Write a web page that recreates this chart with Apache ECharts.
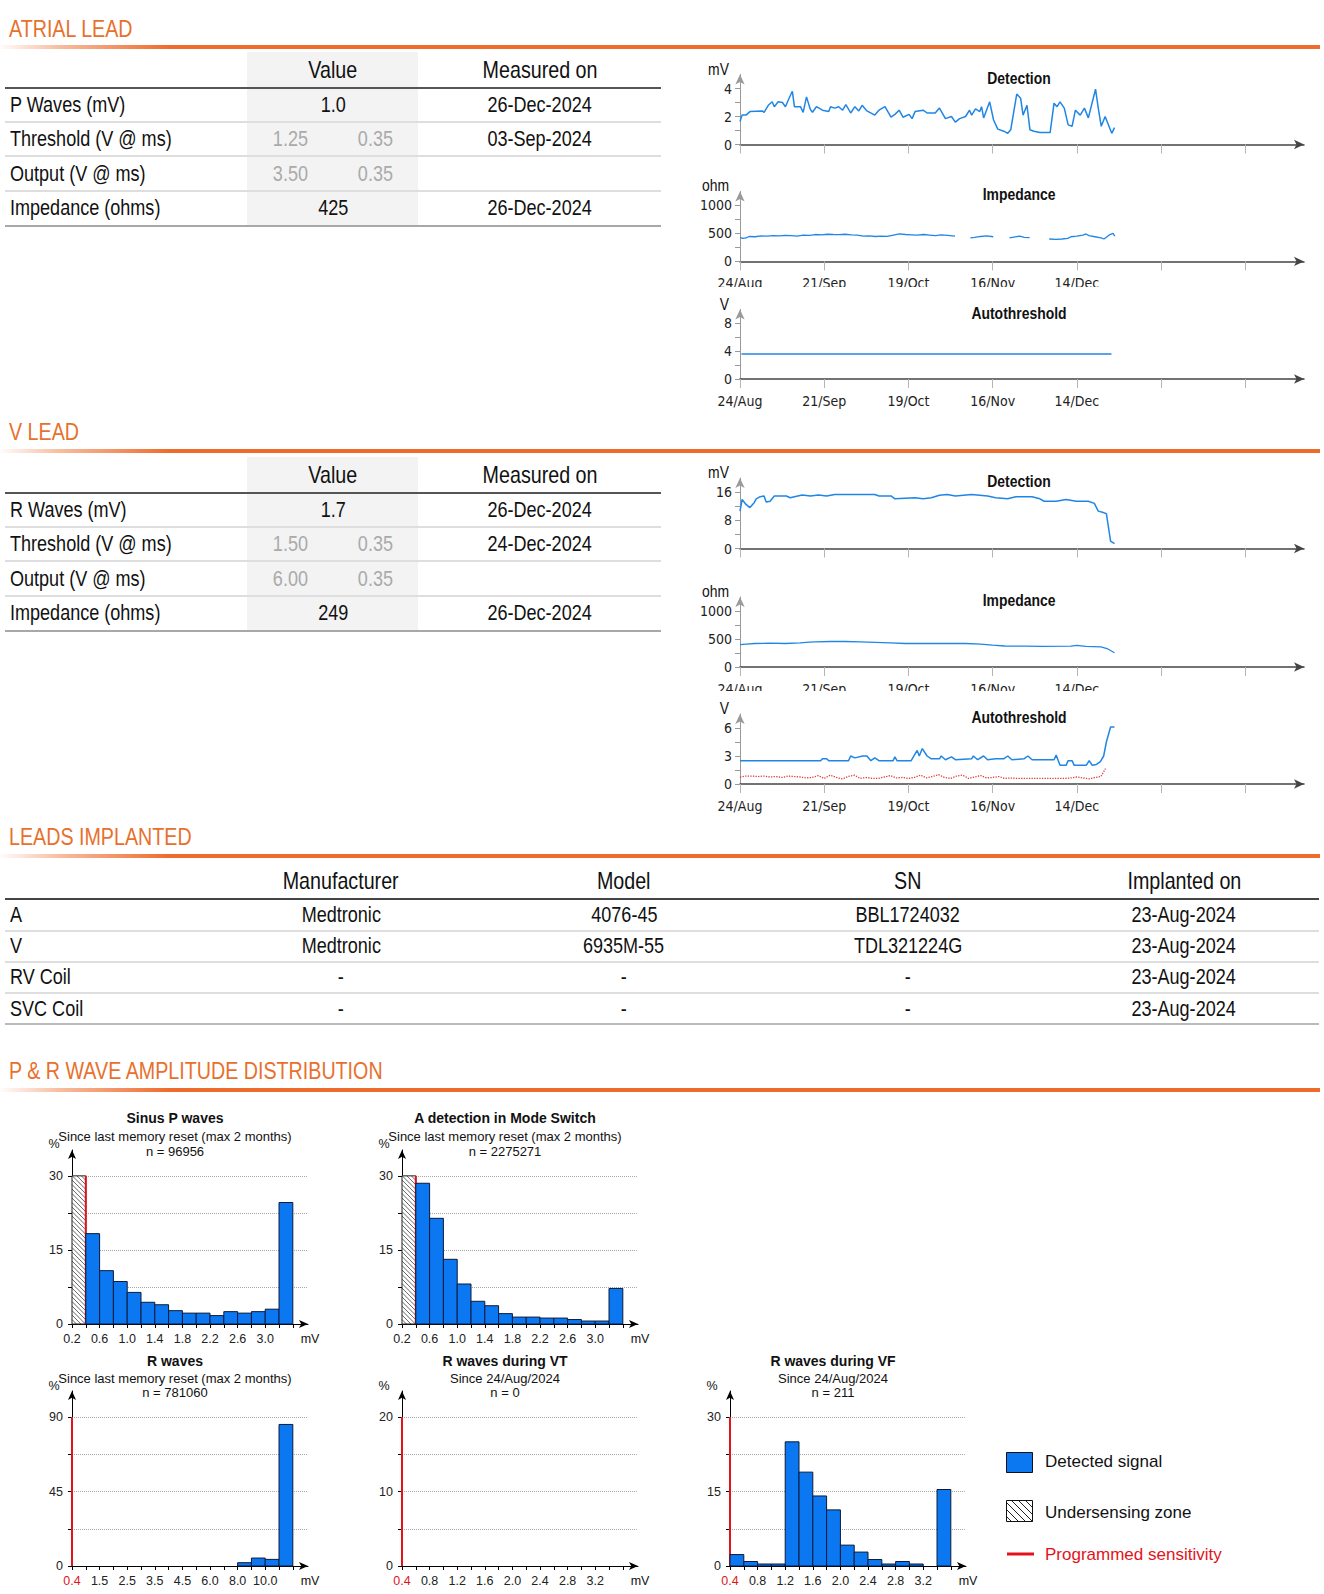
<!DOCTYPE html>
<html><head><meta charset="utf-8">
<script src="https://cdn.jsdelivr.net/npm/echarts@6/dist/echarts.min.js"></script>
<style>
html,body{margin:0;padding:0;background:#fff}
body{width:1324px;height:1594px;position:relative;overflow:hidden;font-family:"Liberation Sans",Arial,sans-serif;color:#111}
.sec{position:absolute;left:9px;font-size:24px;color:#e8702c;line-height:28px;height:28px;white-space:nowrap}
.obar{position:absolute;left:0;width:1320px;height:4px;background:linear-gradient(to right,rgba(238,107,43,0.02) 0,rgba(238,107,43,0.45) 60px,#ee6b2b 170px,#ee6b2b 100%)}
.cell{position:absolute;font-size:22px;line-height:28px;height:28px;white-space:nowrap}
.n{display:inline-block;transform:scaleX(0.82)}
.cell.l .n,.sec .n{transform-origin:0 50%}
.cell.c .n{transform-origin:50% 50%}
.rule{position:absolute}
.chart{position:absolute}
</style></head><body>
<div id="root"></div>
<script>
// ---------------- DATA ----------------
const atrialRowLabels = ['P Waves (mV)','Threshold (V @ ms)','Output (V @ ms)','Impedance (ohms)'];
const atrialRowValues = [['1.0'],['1.25','0.35'],['3.50','0.35'],['425']];
const atrialMeasuredOn = ['26-Dec-2024','03-Sep-2024','','26-Dec-2024'];
const vRowLabels = ['R Waves (mV)','Threshold (V @ ms)','Output (V @ ms)','Impedance (ohms)'];
const vRowValues = [['1.7'],['1.50','0.35'],['6.00','0.35'],['249']];
const vMeasuredOn = ['26-Dec-2024','24-Dec-2024','','26-Dec-2024'];

const leadHeaders = ['Manufacturer','Model','SN','Implanted on'];
const leadNames = ['A','V','RV Coil','SVC Coil'];
const leadManufacturer = ['Medtronic','Medtronic','-','-'];
const leadModel = ['4076-45','6935M-55','-','-'];
const leadSN = ['BBL1724032','TDL321224G','-','-'];
const leadImplanted = ['23-Aug-2024','23-Aug-2024','23-Aug-2024','23-Aug-2024'];

// trend x axis: days since 24/Aug/2024
const trendTickDays = [0,28,56,84,112,140,168];
const trendLabelDays = [0,28,56,84,112];
const trendTickLabels = ['24/Aug','21/Sep','19/Oct','16/Nov','14/Dec'];

const atrialDetDays = [0,0.7,2,3.3,7.4,8,9.4,10.7,11.4,12.7,14.1,15.1,16.1,17.4,18.1,20.1,21,22.1,23.4,24.1,25.4,27.4,29.5,30.1,31.5,32.8,34.1,35.2,36.8,38.2,39.5,40.6,42.2,44.8,46.2,48.2,50.2,51.5,52.9,54.2,56.2,57.2,58.2,60.9,62.2,64.9,66.3,68.3,70.3,71.6,73,75,76.3,77,78.3,79.7,80.3,81,83,84.3,85.7,87.7,89,90,92,93.3,94.1,95.4,96.4,97.7,99.7,103.1,104.4,105.4,106.4,107.8,109.1,110.4,111.5,113.1,114.5,115.8,118.2,119.1,120.1,121.4,122.5,123.6,124.5];
const atrialDetValues = [1.65,2.1,2.1,2.35,2.4,2.3,2.8,3.05,2.7,3.05,3.0,2.7,3.2,3.8,2.7,2.7,2.3,3.4,2.5,2.3,2.7,2.45,2.35,2.7,2.6,2.7,2.45,2.85,2.25,2.7,2.4,2.8,2.4,2.1,2.45,2.7,1.95,2.15,2.45,1.95,2.15,1.85,2.35,2.45,2.25,2.25,2.6,1.85,2.0,1.6,1.85,2.0,2.45,2.1,2.55,2.35,2.7,1.9,3.05,1.75,1.1,0.95,0.8,1.05,3.6,3.3,2.1,2.8,1.05,0.95,0.85,0.85,2.95,2.7,3.05,2.6,1.4,1.3,2.45,2.1,2.6,1.9,3.95,2.6,1.3,2.0,1.4,0.8,1.2];

const atrialImpDays = [0,1,2,3,5,7,9,11,13,15,17,19,21,23,25,27,29,31,33,35,37,39,41,43,45,47,49,51,53,55,57,59,61,63,65,67,69,71.5,74,76.6,78,80,82,84.2,87,89.6,91,93,94.5,96.3,100,102.8,105,107,109,110,112,114,115,116,118,120,121,122,123,124,124.6];
const atrialImpValues = [425,410,420,445,440,455,450,460,455,465,460,450,470,465,480,475,485,480,478,485,475,470,450,455,445,450,448,470,490,480,475,470,480,470,460,475,465,450,null,420,430,445,455,440,null,420,435,450,430,425,null,400,395,400,410,440,450,470,490,460,440,420,400,440,480,500,450];

const atrialAutoDays = [0.5,123.5];
const atrialAutoValues = [3.6,3.6];

const vDetDays = [0,0.7,2,3.3,4.7,5.4,6.7,8,8.7,10,11.4,15.4,16.7,18.1,20.7,23.4,26.1,28.8,31.5,44.8,46.2,50.2,51.5,58.2,60.9,63.6,66.3,68.9,71.6,77,82.3,85,89,91.7,97.1,99.7,101.1,105.1,108.4,111.8,115.8,117.8,119.1,120.5,121.8,123.2,124.5];
const vDetValues = [10.6,13.9,12.5,11.6,13.0,14.1,14.7,14.9,13.2,13.4,14.9,14.9,14.4,14.7,15.2,14.9,15.2,14.9,15.3,15.3,14.9,14.9,14.1,14.4,14.1,14.4,15.1,15.3,14.9,15.3,14.9,14.4,14.1,14.7,14.7,14.1,13.4,13.4,13.9,13.4,13.4,12.8,10.6,10.3,9.9,2.1,1.4];

const vImpDays = [0,2,5,10,15,20,23,25,30,35,40,45,50,55,60,65,70,75,80,84,88,95,100,110,112,115,120,122,124.5];
const vImpValues = [400,410,420,425,420,430,445,450,455,455,450,440,430,420,420,420,420,420,410,390,375,372,370,372,385,370,360,330,255];

const vAutoDays = [0,26.8,27.4,28.8,29.5,36.1,36.8,38.2,40.8,42.2,43.5,44.8,46.2,50.9,51.5,52.2,56.9,58.9,59.6,60.6,62.2,63.6,66.3,66.9,68.3,70.3,71.6,77,77.6,79,81,82.3,85,87.7,89,90.4,94.4,95.7,97.1,104.4,105.1,106.4,108.4,109.1,110.4,111.1,115.1,116.1,117.1,118.5,119.8,120.9,121.8,123.2,124.5];
const vAutoValues = [2.5,2.5,2.7,2.7,2.5,2.5,3.0,2.8,3.0,3.0,2.5,2.8,2.5,2.5,2.9,2.5,2.5,3.6,3.0,3.8,3.0,2.7,2.7,3.0,2.6,2.9,2.6,2.7,3.0,2.6,3.0,2.6,2.7,2.7,3.0,2.6,2.7,3.0,2.6,2.6,3.1,2.0,2.0,2.5,2.5,2.0,2.0,2.5,2.0,2.1,2.4,3.0,4.5,6.1,6.1];

const vCaptureDays = [0,2,4,6,8,10,12,14,16,18,20,22,24,26,28,30,32,34,36,38,40,42,44,46,48,50,52,54,56,58,60,62,64,66,68,70,72,74,76,78,80,82,84,86,88,90,92,94,96,98,100,102,104,106,108,110,112,114,116,118,120,121.5];
const vCaptureValues = [0.75,0.85,0.85,0.8,0.85,0.75,0.8,0.7,0.85,0.8,0.75,0.65,0.7,0.9,0.6,0.95,0.7,0.55,0.8,0.95,0.6,0.7,0.6,0.6,0.75,0.9,0.65,0.7,0.6,0.7,0.95,0.65,0.8,1.0,0.7,0.6,0.85,0.95,0.6,0.75,0.9,0.65,0.7,0.8,0.6,0.65,0.6,0.6,0.6,0.6,0.6,0.6,0.6,0.6,0.6,0.65,0.75,0.65,0.55,0.7,0.8,1.65];

// histograms (bins of equal width, bin index units)
const histTickIdx = [0,1,2,3,4,5,6,7,8,9,10,11,12,13,14,15,16];
const histLabelIdx = [0,2,4,6,8,10,12,14];
const pLabels = ['0.2','0.6','1.0','1.4','1.8','2.2','2.6','3.0'];
const rLabels = ['0.4','1.5','2.5','3.5','4.5','6.0','8.0','10.0'];
const tachyLabels = ['0.4','0.8','1.2','1.6','2.0','2.4','2.8','3.2'];

const sinusPValues = [0,18.3,10.8,8.6,6.4,4.4,3.9,2.7,2.2,2.2,1.7,2.5,2.2,2.5,3.0,24.6];
const modeSwitchValues = [0,28.5,21.4,13.1,8.1,4.6,3.7,2.1,1.4,1.4,1.2,1.2,0.9,0.6,0.6,7.2];
const rWaveValues = [0,0,0,0,0,0,0,0,0,0,0,0,2.0,4.8,4.0,85.5];
const vtValues = [0,0,0,0,0,0,0,0,0,0,0,0,0,0,0,0];
const vfValues = [2.3,0.9,0.4,0.4,25.0,18.9,14.1,11.3,4.2,2.8,1.3,0.4,0.9,0.4,0,15.4];
const atrialUnderZone = [0,1];   // 0.2 - 0.4 mV
const atrialSensitivity = 1;     // 0.4 mV
const ventSensitivity = 0;       // 0.4 mV

// ---------------- HELPERS ----------------
const NARROW = '"DejaVu Sans Condensed","Liberation Sans Narrow","Arial Narrow",sans-serif';
const ARIAL = '"Liberation Sans",Arial,Helvetica,sans-serif';
const BLUE_LINE = '#1f86e6';
const RED = '#e3131b';
const root = document.getElementById('root');

function el(cls, css, t) {
  const d = document.createElement('div');
  d.className = cls;
  Object.assign(d.style, css);
  if (t !== undefined) { const s = document.createElement('span'); s.className = 'n'; s.textContent = t; d.appendChild(s); }
  root.appendChild(d);
  return d;
}
function txt(t, x, y, align, extra) {
  const css = Object.assign({top: (y - 14) + 'px'}, extra || {});
  if (align === 'center') { css.left = (x - 150) + 'px'; css.width = '300px'; css.textAlign = 'center'; }
  else { css.left = x + 'px'; }
  return el('cell ' + (align === 'center' ? 'c' : 'l'), css, t);
}
function rule(x, y, w, h, color) { el('rule', {left: x + 'px', top: y + 'px', width: w + 'px', height: h + 'px', background: color}); }
function section(t, y, lineY) {
  el('sec', {top: (y - 14) + 'px'}, t);
  el('obar', {top: (lineY - 2) + 'px'});
}

function leadTable(off, labels, values, measured) {
  rule(247, 52 + off, 171, 174, '#f3f3f3');
  txt('Value', 333, 70 + off, 'center', {fontSize: '24px'});
  txt('Measured on', 540, 70 + off, 'center', {fontSize: '24px'});
  rule(5, 87 + off, 656, 2, '#555');
  for (let i = 0; i < labels.length; i++) {
    const cy = 105 + i * 34.4 + off;
    txt(labels[i], 10, cy, 'left');
    const v = values[i];
    if (v.length === 1) txt(v[0], 333, cy, 'center');
    else { txt(v[0], 290, cy, 'center', {color: '#aaa'}); txt(v[1], 375, cy, 'center', {color: '#aaa'}); }
    txt(measured[i], 540, cy, 'center');
    if (i < labels.length - 1) rule(5, 121 + i * 34.4 + off, 656, 2, '#dedede');
  }
  rule(5, 224.5 + off, 656, 2, '#a8a8a8');
}

section('ATRIAL LEAD', 28.5, 47);
leadTable(0, atrialRowLabels, atrialRowValues, atrialMeasuredOn);
section('V LEAD', 432, 450.5);
leadTable(405, vRowLabels, vRowValues, vMeasuredOn);

section('LEADS IMPLANTED', 837, 856);
(function () {
  const cx = [341, 624, 908, 1184];
  leadHeaders.forEach((h, i) => txt(h, cx[i], 881, 'center', {fontSize: '24px'}));
  rule(5, 897.5, 1314, 2, '#444');
  const cols = [leadManufacturer, leadModel, leadSN, leadImplanted];
  for (let r = 0; r < leadNames.length; r++) {
    const cy = 915 + r * 31.2;
    txt(leadNames[r], 10, cy, 'left');
    cols.forEach((c, i) => txt(c[r], cx[i], cy, 'center'));
    rule(5, 930 + r * 31, 1314, 2, r === leadNames.length - 1 ? '#bbb' : '#dedede');
  }
})();

section('P & R WAVE AMPLITUDE DISTRIBUTION', 1071, 1090);

function chartDiv(left, top, w, h) {
  const d = document.createElement('div');
  d.className = 'chart';
  Object.assign(d.style, {left: left + 'px', top: top + 'px', width: w + 'px', height: h + 'px', overflow: 'hidden'});
  root.appendChild(d);
  return echarts.init(d, null, {renderer: 'svg', width: w, height: h});
}
function gtext(text, x, y, size, opts) {
  opts = opts || {};
  return {type: 'text', x: x, y: y, z: 100, scaleX: opts.sx || 1,
    style: {text: text, fontSize: size, fontWeight: opts.bold ? 'bold' : 'normal',
    fontFamily: opts.font || ARIAL, fill: opts.color || '#111', align: opts.align || 'center', textAlign: opts.align || 'center',
    verticalAlign: 'middle', textVerticalAlign: 'middle'}};
}

// ---------------- TREND CHARTS ----------------
function trend(top, h, o) {
  const c = chartDiv(690, top, 634, h);
  const series = o.series.map(s => ({
    type: 'line', data: s.days.map((d, i) => [d, s.values[i]]), showSymbol: false, connectNulls: false,
    lineStyle: {color: s.color || BLUE_LINE, width: s.width || 1.5, type: s.dash || 'solid'}, itemStyle: {color: s.color || BLUE_LINE}, z: s.z || 3
  }));
  c.setOption({
    animation: false,
    grid: {left: 50, top: o.gTop, width: 564, height: o.gH, containLabel: false, outerBoundsMode: 'none'},
    xAxis: {type: 'value', min: 0, max: 187.5,
      axisLine: {lineStyle: {color: '#444', width: 1.5}, symbol: ['none', 'arrow'], symbolSize: [7, 10]},
      axisTick: {show: true, customValues: trendTickDays, length: 9, lineStyle: {color: '#b5b5b5'}},
      axisLabel: {show: o.xLabels, customValues: trendLabelDays, formatter: v => trendTickLabels[trendLabelDays.indexOf(+v)] || '',
        margin: 15, fontSize: 14, color: '#222', fontFamily: NARROW},
      splitLine: {show: false}},
    yAxis: {type: 'value', min: 0, max: o.yMax,
      axisLine: {show: true, lineStyle: {color: '#9a9a9a'}, symbol: ['none', 'arrow'], symbolSize: [7, 10]},
      axisTick: {show: true, customValues: o.yTicks, length: 5, lineStyle: {color: '#9a9a9a'}},
      axisLabel: {customValues: o.yLabels, formatter: v => String(v), margin: 8, fontSize: 14, color: '#222', fontFamily: NARROW},
      splitLine: {show: false}},
    graphic: [
      gtext(o.title, 329, o.gTop + 3, 17, {bold: true, sx: 0.82}),
      gtext(o.unit, 39, o.gTop - 6, 17, {align: 'right', sx: 0.82})
    ],
    series: series
  });
}

trend(50, 115, {gTop: 24.5, gH: 70, yMax: 5, yTicks: [0,1,2,3,4], yLabels: [0,2,4], xLabels: false,
  title: 'Detection', unit: 'mV', series: [{days: atrialDetDays, values: atrialDetValues}]});
trend(165, 122, {gTop: 26.4, gH: 70, yMax: 1250, yTicks: [0,250,500,750,1000], yLabels: [0,500,1000], xLabels: true,
  title: 'Impedance', unit: 'ohm', series: [{days: atrialImpDays, values: atrialImpValues, width: 1.3}]});
trend(287, 131, {gTop: 22.5, gH: 69.5, yMax: 10, yTicks: [0,2,4,6,8], yLabels: [0,4,8], xLabels: true,
  title: 'Autothreshold', unit: 'V', series: [{days: atrialAutoDays, values: atrialAutoValues}]});

trend(455, 110, {gTop: 23, gH: 70.5, yMax: 20, yTicks: [0,4,8,12,16], yLabels: [0,8,16], xLabels: false,
  title: 'Detection', unit: 'mV', series: [{days: vDetDays, values: vDetValues}]});
trend(565, 126, {gTop: 32, gH: 70, yMax: 1250, yTicks: [0,250,500,750,1000], yLabels: [0,500,1000], xLabels: true,
  title: 'Impedance', unit: 'ohm', series: [{days: vImpDays, values: vImpValues, width: 1.3}]});
trend(691, 126, {gTop: 23, gH: 70, yMax: 7.5, yTicks: [0,1.5,3,4.5,6], yLabels: [0,3,6], xLabels: true,
  title: 'Autothreshold', unit: 'V', series: [
    {days: vCaptureDays, values: vCaptureValues, color: '#e03a3a', width: 1.3, dash: 'dotted', z: 2},
    {days: vAutoDays, values: vAutoValues}]});

// ---------------- HISTOGRAMS ----------------
function hatchLines(x, y, w, h, step, color) {
  const out = [];
  for (let c = -w; c < h; c += step) {
    const xs = Math.max(0, -c), xe = Math.min(w, h - c);
    if (xe > xs) out.push({type: 'line', shape: {x1: x + xs, y1: y + xs + c, x2: x + xe, y2: y + xe + c}, style: {stroke: color, lineWidth: 1}});
  }
  return out;
}

function hist(left, top, row, o) {
  const c = chartDiv(left, top, 330, row === 1 ? 262 : 254);
  const gTop = row === 1 ? 55 : 51, gH = row === 1 ? 174 : 175;
  const q = o.yTop / 4;
  const yMax = o.yTop * 175 / 149;
  const bars = o.values.map((v, i) => [i, i + 1, v]).filter(d => d[2] > 0);
  const ty = row === 1 ? [23, 41, 56, 49] : [21, 38, 52, 46];
  const series = [];
  if (o.under) series.push({type: 'custom', z: 2, data: [[o.under[0], o.under[1], o.yTop]],
    renderItem: (p, api) => {
      const p0 = api.coord([api.value(0), api.value(2)]), p1 = api.coord([api.value(1), 0]);
      const x = p0[0], y = p0[1], w = p1[0] - p0[0], h = p1[1] - p0[1];
      return {type: 'group', children: [{type: 'rect', shape: {x, y, width: w, height: h}, style: {fill: '#fff', stroke: 'none'}}]
        .concat(hatchLines(x, y, w, h, 4.5, '#666'))
        .concat([{type: 'rect', shape: {x, y, width: w, height: h}, style: {fill: 'none', stroke: '#222', lineWidth: 1}}])};
    }});
  series.push({type: 'custom', z: 3, data: [[o.sens, o.yTop]],
    renderItem: (p, api) => {
      const a = api.coord([api.value(0), 0]), b = api.coord([api.value(0), api.value(1)]);
      return {type: 'line', shape: {x1: a[0], y1: a[1], x2: b[0], y2: b[1]}, style: {stroke: RED, lineWidth: 2}};
    }});
  series.push({type: 'custom', z: 4, data: bars,
    renderItem: (p, api) => {
      const p0 = api.coord([api.value(0), api.value(2)]), p1 = api.coord([api.value(1), 0]);
      return {type: 'rect', shape: {x: p0[0], y: p0[1], width: p1[0] - p0[0], height: p1[1] - p0[1]},
        style: {fill: '#0b78f2', stroke: '#0c1a3a', lineWidth: 1}};
    }});
  c.setOption({
    animation: false,
    grid: {left: 72, top: gTop, width: 236, height: gH, containLabel: false, outerBoundsMode: 'none'},
    xAxis: {type: 'value', min: 0, max: 17.1,
      axisLine: {lineStyle: {color: '#000', width: 1}, symbol: ['none', 'arrow'], symbolSize: [6, 9]},
      axisTick: {show: true, customValues: histTickIdx, length: 4, lineStyle: {color: '#000'}},
      axisLabel: {customValues: histLabelIdx, formatter: v => o.xLabels[histLabelIdx.indexOf(+v)] || '', margin: 8,
        fontSize: 12.5, fontFamily: ARIAL, color: (v) => (o.redFirst && +v === 0) ? RED : '#222'},
      splitLine: {show: false}},
    yAxis: {type: 'value', min: 0, max: yMax,
      axisLine: {show: true, lineStyle: {color: '#000'}, symbol: ['none', 'arrow'], symbolSize: [6, 9]},
      axisTick: {show: true, customValues: [0, q, 2 * q, 3 * q, 4 * q], length: 4, lineStyle: {color: '#000'}},
      axisLabel: {customValues: [0, 2 * q, 4 * q], margin: 9, fontSize: 12.5, fontFamily: ARIAL, color: '#222'},
      splitLine: {show: true, lineStyle: {type: 'dotted', color: '#a8a8a8', width: 1}}},
    graphic: [
      gtext(o.title, 175, ty[0], 14, {bold: true}),
      gtext(o.sub, 175, ty[1], 13),
      gtext(o.n, 175, ty[2], 13),
      gtext('%', 54, ty[3], 12.5),
      gtext('mV', 310, gTop + gH + 15, 12.5)
    ],
    series: series
  });
}

hist(0, 1095, 1, {title: 'Sinus P waves', sub: 'Since last memory reset (max 2 months)', n: 'n = 96956', yTop: 30,
  values: sinusPValues, xLabels: pLabels, under: atrialUnderZone, sens: atrialSensitivity, redFirst: false});
hist(330, 1095, 1, {title: 'A detection in Mode Switch', sub: 'Since last memory reset (max 2 months)', n: 'n = 2275271', yTop: 30,
  values: modeSwitchValues, xLabels: pLabels, under: atrialUnderZone, sens: atrialSensitivity, redFirst: false});
hist(0, 1340, 2, {title: 'R waves', sub: 'Since last memory reset (max 2 months)', n: 'n = 781060', yTop: 90,
  values: rWaveValues, xLabels: rLabels, under: null, sens: ventSensitivity, redFirst: true});
hist(330, 1340, 2, {title: 'R waves during VT', sub: 'Since 24/Aug/2024', n: 'n = 0', yTop: 20,
  values: vtValues, xLabels: tachyLabels, under: null, sens: ventSensitivity, redFirst: true});
hist(658, 1340, 2, {title: 'R waves during VF', sub: 'Since 24/Aug/2024', n: 'n = 211', yTop: 30,
  values: vfValues, xLabels: tachyLabels, under: null, sens: ventSensitivity, redFirst: true});

// ---------------- LEGEND ----------------
(function () {
  const c = chartDiv(990, 1440, 330, 130);
  c.setOption({
    animation: false,
    graphic: [
      {type: 'rect', shape: {x: 16.5, y: 12.5, width: 26, height: 20}, style: {fill: '#0b78f2', stroke: '#111', lineWidth: 1}},
      gtext('Detected signal', 55, 21, 17, {align: 'left'}),
      {type: 'group', children: [{type: 'rect', shape: {x: 16.5, y: 60.5, width: 26, height: 21}, style: {fill: '#fff'}}]
        .concat(hatchLines(16.5, 60.5, 26, 21, 7, '#222'))
        .concat([{type: 'rect', shape: {x: 16.5, y: 60.5, width: 26, height: 21}, style: {fill: 'none', stroke: '#111', lineWidth: 1}}])},
      gtext('Undersensing zone', 55, 72, 17, {align: 'left'}),
      {type: 'line', shape: {x1: 17, y1: 114, x2: 44, y2: 114}, style: {stroke: RED, lineWidth: 3}},
      gtext('Programmed sensitivity', 55, 114, 17, {align: 'left', color: RED})
    ]
  });
})();
</script>
</body></html>
